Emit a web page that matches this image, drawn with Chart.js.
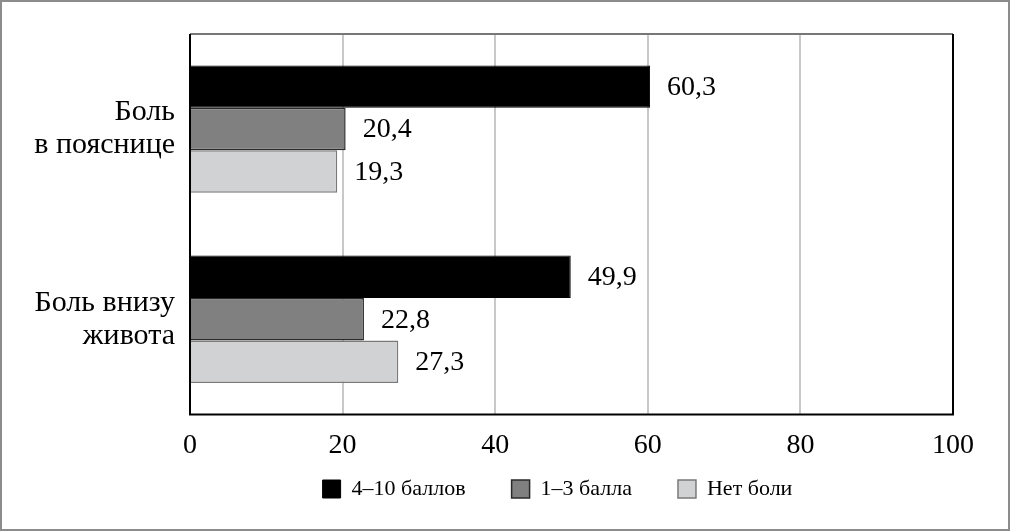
<!DOCTYPE html>
<html>
<head>
<meta charset="utf-8">
<script src="https://cdn.jsdelivr.net/npm/chart.js@4"></script>
<style>
  html, body { margin: 0; padding: 0; background: #fff; }
  .frame {
    width: 1010px; height: 531px; box-sizing: border-box;
    border: 2px solid #8c8c8c; background: #fff;
  }
  canvas { display: block; }
</style>
</head>
<body>
<div class="frame"><canvas id="painChart" width="1006" height="527"></canvas></div>
<script>
const categories = [['Боль', 'в пояснице'], ['Боль внизу', 'живота']];
const seriesNames = ['4–10 баллов', '1–3 балла', 'Нет боли'];
const severe = [60.3, 49.9];
const mild = [20.4, 22.8];
const noPain = [19.3, 27.3];
const xTicks = [0, 20, 40, 60, 80, 100];

const serif = "'Liberation Serif', 'Times New Roman', serif";

// value labels to the right of each bar
const valueLabels = {
  id: 'valueLabels',
  afterDatasetsDraw(chart) {
    const ctx = chart.ctx;
    ctx.save();
    ctx.font = '28px ' + serif;
    ctx.fillStyle = '#000';
    ctx.textAlign = 'left';
    ctx.textBaseline = 'middle';
    chart.data.datasets.forEach((ds, i) => {
      chart.getDatasetMeta(i).data.forEach((bar, j) => {
        const txt = String(ds.data[j]).replace('.', ',');
        ctx.fillText(txt, bar.x + 17, bar.y + 1);
      });
    });
    ctx.restore();
  }
};

// plot frame: black left/bottom/right, grey top
const plotFrame = {
  id: 'plotFrame',
  afterDatasetsDraw(chart) {
    const { left, right, top, bottom } = chart.chartArea;
    const ctx = chart.ctx;
    ctx.save();
    ctx.lineWidth = 2;
    ctx.strokeStyle = '#777';
    ctx.beginPath();
    ctx.moveTo(left, top); ctx.lineTo(right, top);
    ctx.stroke();
    ctx.strokeStyle = '#000';
    ctx.beginPath();
    ctx.moveTo(right, top); ctx.lineTo(right, bottom);
    ctx.lineTo(left, bottom); ctx.lineTo(left, top);
    ctx.stroke();
    ctx.restore();
  }
};

// nudge the legend to where the original puts it
const legendShift = {
  id: 'legendShift',
  afterLayout(chart) {
    const lg = chart.legend;
    const dx = 80, dy = -29;
    lg.left += dx; lg.right += dx;
    lg.top += dy; lg.bottom += dy;
  }
};

new Chart(document.getElementById('painChart'), {
  type: 'bar',
  data: {
    labels: categories,
    datasets: [
      { label: seriesNames[0], data: severe, backgroundColor: '#000', borderColor: '#000', borderWidth: 1 },
      { label: seriesNames[1], data: mild, backgroundColor: '#808080', borderColor: '#2a2a2a', borderWidth: 1.5 },
      { label: seriesNames[2], data: noPain, backgroundColor: '#d1d2d4', borderColor: '#7a7a7a', borderWidth: 1.5 }
    ]
  },
  options: {
    indexAxis: 'y',
    responsive: false,
    animation: false,
    categoryPercentage: 0.67,
    barPercentage: 1.0,
    layout: { padding: { left: 0, right: 55, top: 32, bottom: 0 } },
    scales: {
      x: {
        min: 0, max: 100,
        afterBuildTicks(scale) { scale.ticks = xTicks.map(v => ({ value: v })); },
        afterFit(scale) { scale.height -= 15; },
        grid: { color: '#c8c8c8', lineWidth: 2, drawTicks: false },
        border: { display: false },
        ticks: { color: '#000', padding: 14, font: { family: serif, size: 28 } }
      },
      y: {
        grid: { display: false, drawTicks: false },
        border: { display: false },
        afterFit(scale) {
          scale.width = 188;
          scale.paddingTop = 0;
          scale.paddingBottom = 0;
        },
        ticks: { color: '#000', padding: 15, font: { family: serif, size: 30, lineHeight: 1.1 } }
      }
    },
    plugins: {
      legend: {
        position: 'bottom',
        maxHeight: 68,
        labels: {
          color: '#000', boxWidth: 18, boxHeight: 18, padding: 46,
          font: { family: serif, size: 22 }
        }
      },
      tooltip: { enabled: false }
    }
  },
  plugins: [valueLabels, plotFrame, legendShift]
});
</script>
</body>
</html>
